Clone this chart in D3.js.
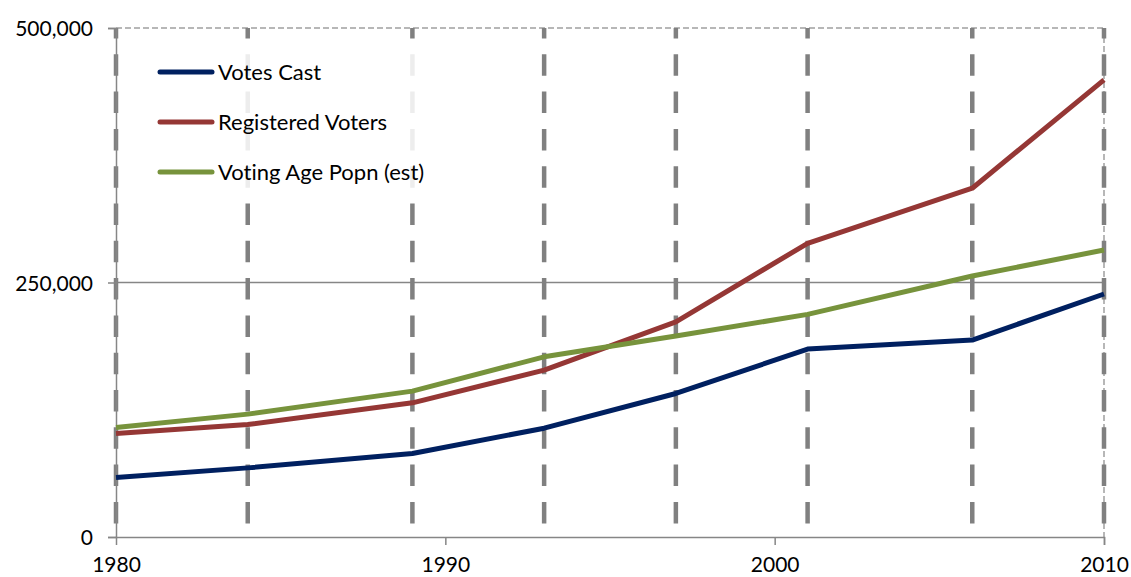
<!DOCTYPE html>
<html>
<head>
<meta charset="utf-8">
<script src="https://cdn.jsdelivr.net/npm/d3@7"></script>
<style>
  body { margin: 0; background: #fff; }
  svg text { font-family: Lato, "Open Sans", sans-serif; fill: #000; font-variant-ligatures: none; }
</style>
</head>
<body>
<svg id="chart" width="1131" height="577"></svg>
<script>
// data
const years = [1980, 1984, 1989, 1993, 1997, 2001, 2006, 2010];
const votesCast = [58400, 67900, 82000, 106900, 141000, 184600, 193500, 238700];
const registeredVoters = [101700, 110500, 131800, 163900, 211400, 288500, 342600, 449100];
const votingAgePopn = [107600, 120700, 143300, 177000, 197400, 218700, 256400, 281900];
const seriesNames = ["Votes Cast", "Registered Voters", "Voting Age Popn (est)"];
const seriesColors = ["#002060", "#953735", "#77933c"];
const xTicks = [1980, 1990, 2000, 2010];
const yTicks = [0, 250000, 500000];

const svg = d3.select("#chart");
const margin = { left: 116, right: 27, top: 28, bottom: 40 };
const width = 1131, height = 577;

const x = d3.scaleLinear().domain([1980, 2010]).range([margin.left, width - margin.right]);
const y = d3.scaleLinear().domain([0, 500000]).range([height - margin.bottom, margin.top]);

const grey = "#868686";

// 250k gridline
svg.append("line")
    .attr("x1", x(1980)).attr("x2", x(2010))
    .attr("y1", y(250000)).attr("y2", y(250000))
    .attr("stroke", grey).attr("stroke-width", 1.5);

// top and right border (thin dashed)
svg.append("line")
    .attr("x1", x(1980)).attr("x2", x(2010))
    .attr("y1", y(500000)).attr("y2", y(500000))
    .attr("stroke", "#a0a0a0").attr("stroke-width", 1.5)
    .attr("stroke-dasharray", "6,3");
svg.append("line")
    .attr("x1", x(2010)).attr("x2", x(2010))
    .attr("y1", y(500000)).attr("y2", y(0))
    .attr("stroke", "#a0a0a0").attr("stroke-width", 1.5)
    .attr("stroke-dasharray", "6,3");

// thick dashed drop lines at each data year
svg.append("g")
    .selectAll("line")
    .data(years)
    .join("line")
    .attr("x1", d => x(d)).attr("x2", d => x(d))
    .attr("y1", y(500000)).attr("y2", y(0))
    .attr("stroke", "#808080")
    .attr("stroke-width", 4.5)
    .attr("stroke-dasharray", "21.5,15.8")
    .attr("stroke-dashoffset", -26.3);

// axes
const yAxis = d3.axisLeft(y).tickValues(yTicks).tickSize(8).tickPadding(15)
    .tickFormat(d3.format(","));
const xAxis = d3.axisBottom(x).tickValues(xTicks).tickSize(8).tickPadding(12)
    .tickFormat(d3.format("d"));

const gy = svg.append("g").attr("transform", `translate(${margin.left},0)`).call(yAxis);
const gx = svg.append("g").attr("transform", `translate(0,${height - margin.bottom})`).call(xAxis);

[gx, gy].forEach(g => {
    g.select(".domain").attr("stroke", grey).attr("stroke-width", 1.5);
    g.selectAll(".tick line").attr("stroke", grey).attr("stroke-width", 1.5);
    g.selectAll(".tick text").attr("font-size", 21).attr("font-family", "Lato, sans-serif").attr("fill", "#000");
});
gy.selectAll(".tick text").attr("dy", "0.36em");
gx.select(".tick:first-of-type line").remove();

// series lines
const allSeries = [votesCast, registeredVoters, votingAgePopn];
const line = d3.line()
    .x((d, i) => x(years[i]))
    .y(d => y(d));

svg.append("g")
    .selectAll("path")
    .data(allSeries)
    .join("path")
    .attr("d", d => line(d))
    .attr("fill", "none")
    .attr("stroke", (d, i) => seriesColors[i])
    .attr("stroke-width", 5)
    .attr("stroke-linejoin", "round");

// legend box (semi-opaque white over the drop lines)
svg.append("rect")
    .attr("x", 150).attr("y", 48)
    .attr("width", 290).attr("height", 152)
    .attr("fill", "#fff").attr("opacity", 0.86);

const legend = svg.append("g")
    .selectAll("g")
    .data(seriesNames)
    .join("g")
    .attr("transform", (d, i) => `translate(160,${72 + i * 50})`);

legend.append("line")
    .attr("x1", 0).attr("x2", 52)
    .attr("stroke", (d, i) => seriesColors[i])
    .attr("stroke-width", 5)
    .attr("stroke-linecap", "round");

legend.append("text")
    .attr("x", 58)
    .attr("dy", "0.36em")
    .attr("font-size", 22)
    .text(d => d);
</script>
</body>
</html>
